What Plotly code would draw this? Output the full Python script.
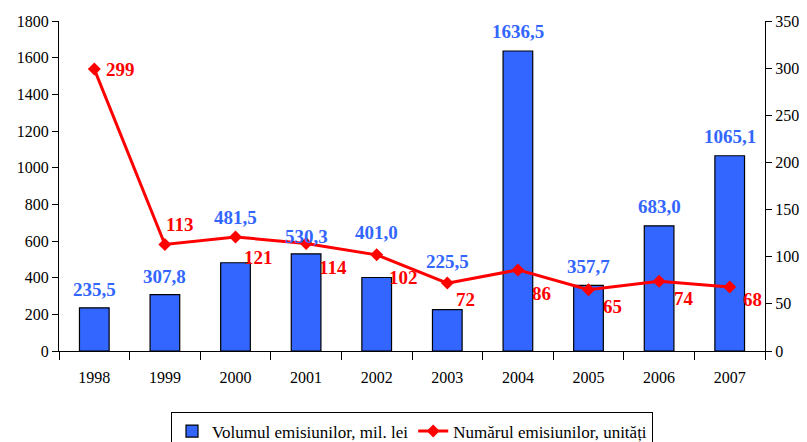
import plotly.graph_objects as go

years = ["1998", "1999", "2000", "2001", "2002", "2003", "2004", "2005", "2006", "2007"]
volume = [235.5, 307.8, 481.5, 530.3, 401.0, 225.5, 1636.5, 357.7, 683.0, 1065.1]
volume_labels = ["235,5", "307,8", "481,5", "530,3", "401,0", "225,5", "1636,5", "357,7", "683,0", "1065,1"]
count = [299, 113, 121, 114, 102, 72, 86, 65, 74, 68]

# label offsets (pixels)
vol_dy = [18, 18, 45, 17, 45, 48, 19, 19, 19, 19]
cnt_dx = [26, 15, 23, 27, 27, 18, 24, 24, 25, 23]
cnt_dy = [0, 20, -21, -24, -23, -16, -24, -17, -17, -13]

BLUE = "#3366FF"
RED = "#FF0000"
FONT = "Liberation Serif"

fig = go.Figure()
fig.add_trace(go.Bar(
    x=years, y=volume, name="Volumul emisiunilor, mil. lei",
    marker=dict(color=BLUE, line=dict(color="#000000", width=1.2)),
    width=0.42, yaxis="y",
))
fig.add_trace(go.Scatter(
    x=years, y=count, name="Numărul emisiunilor, unități",
    mode="lines+markers", yaxis="y2",
    line=dict(color=RED, width=3),
    marker=dict(symbol="diamond", size=10, color=RED),
))

ann = []
for i, (v, t, dy) in enumerate(zip(volume, volume_labels, vol_dy)):
    ann.append(dict(x=i, y=v, xref="x", yref="y", text="<b>" + t + "</b>", showarrow=False,
                    yshift=dy, font=dict(family=FONT, size=19, color=BLUE)))
for i, (c, dx, dy) in enumerate(zip(count, cnt_dx, cnt_dy)):
    ann.append(dict(x=i, y=c, xref="x", yref="y2", text="<b>" + str(c) + "</b>", showarrow=False,
                    xshift=dx, yshift=dy, font=dict(family=FONT, size=19, color=RED)))

# the page body adds an 8px margin, so the figure is 8px smaller and margins shifted
fig.update_layout(
    width=799, height=434,
    margin=dict(l=51, r=42, t=13, b=91, autoexpand=False),
    paper_bgcolor="white", plot_bgcolor="white",
    font=dict(family=FONT, size=16, color="#000000"),
    showlegend=True,
    legend=dict(orientation="h", x=0.5, xanchor="center", xref="paper",
                y=0.068, yanchor="top", yref="container",
                bordercolor="#000000", borderwidth=1, font=dict(family=FONT, size=17),
                traceorder="normal"),
    xaxis=dict(type="category", range=[-0.5, 9.5], showline=True, linecolor="#000000", linewidth=1,
               ticks="outside", tickson="boundaries", ticklen=8, tickcolor="#000000",
               ticklabelstandoff=12, showgrid=False, zeroline=False, automargin=False,
               tickfont=dict(family=FONT, size=16)),
    yaxis=dict(range=[0, 1800], dtick=200, showline=True, linecolor="#000000",
               ticks="outside", ticklen=6, tickcolor="#000000", showgrid=False,
               zeroline=False, automargin=False, tickfont=dict(family=FONT, size=16)),
    yaxis2=dict(range=[0, 350], dtick=50, overlaying="y", side="right", showline=True,
                linecolor="#000000", ticks="outside", ticklen=6, tickcolor="#000000",
                showgrid=False, zeroline=False, automargin=False,
                tickfont=dict(family=FONT, size=16)),
    annotations=ann,
)

fig.write_html("out.html")
